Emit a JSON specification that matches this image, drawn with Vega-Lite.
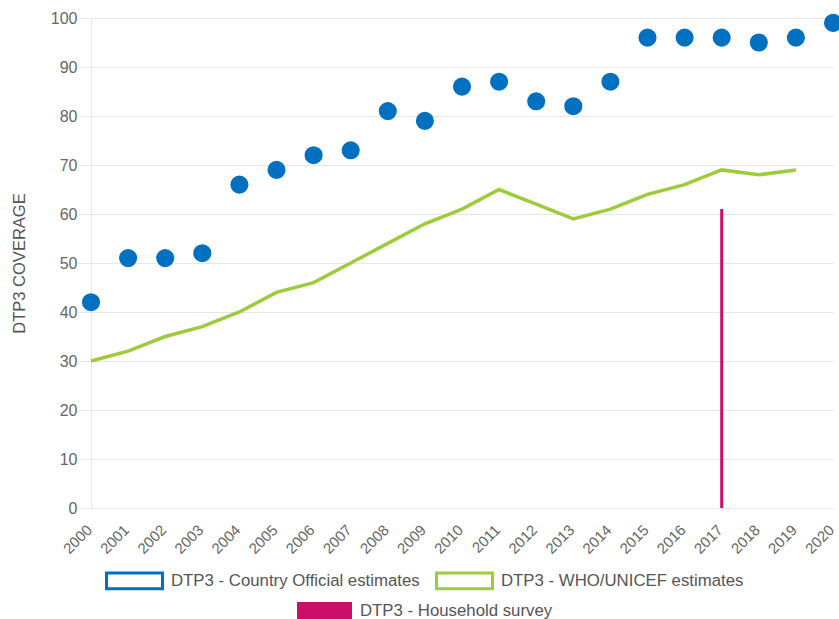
{
  "$schema": "https://vega.github.io/schema/vega-lite/v6.json",
  "width": 742,
  "height": 490,
  "autosize": {"type": "none"},
  "padding": {"left": 91, "top": 18, "right": 6, "bottom": 111},
  "background": "white",
  "datasets": {
    "official": [
      {"year": 2000, "value": 42, "series": "DTP3 - Country Official estimates"},
      {"year": 2001, "value": 51, "series": "DTP3 - Country Official estimates"},
      {"year": 2002, "value": 51, "series": "DTP3 - Country Official estimates"},
      {"year": 2003, "value": 52, "series": "DTP3 - Country Official estimates"},
      {"year": 2004, "value": 66, "series": "DTP3 - Country Official estimates"},
      {"year": 2005, "value": 69, "series": "DTP3 - Country Official estimates"},
      {"year": 2006, "value": 72, "series": "DTP3 - Country Official estimates"},
      {"year": 2007, "value": 73, "series": "DTP3 - Country Official estimates"},
      {"year": 2008, "value": 81, "series": "DTP3 - Country Official estimates"},
      {"year": 2009, "value": 79, "series": "DTP3 - Country Official estimates"},
      {"year": 2010, "value": 86, "series": "DTP3 - Country Official estimates"},
      {"year": 2011, "value": 87, "series": "DTP3 - Country Official estimates"},
      {"year": 2012, "value": 83, "series": "DTP3 - Country Official estimates"},
      {"year": 2013, "value": 82, "series": "DTP3 - Country Official estimates"},
      {"year": 2014, "value": 87, "series": "DTP3 - Country Official estimates"},
      {"year": 2015, "value": 96, "series": "DTP3 - Country Official estimates"},
      {"year": 2016, "value": 96, "series": "DTP3 - Country Official estimates"},
      {"year": 2017, "value": 96, "series": "DTP3 - Country Official estimates"},
      {"year": 2018, "value": 95, "series": "DTP3 - Country Official estimates"},
      {"year": 2019, "value": 96, "series": "DTP3 - Country Official estimates"},
      {"year": 2020, "value": 99, "series": "DTP3 - Country Official estimates"}
    ],
    "who": [
      {"year": 2000, "value": 30, "series": "DTP3 - WHO/UNICEF estimates"},
      {"year": 2001, "value": 32, "series": "DTP3 - WHO/UNICEF estimates"},
      {"year": 2002, "value": 35, "series": "DTP3 - WHO/UNICEF estimates"},
      {"year": 2003, "value": 37, "series": "DTP3 - WHO/UNICEF estimates"},
      {"year": 2004, "value": 40, "series": "DTP3 - WHO/UNICEF estimates"},
      {"year": 2005, "value": 44, "series": "DTP3 - WHO/UNICEF estimates"},
      {"year": 2006, "value": 46, "series": "DTP3 - WHO/UNICEF estimates"},
      {"year": 2007, "value": 50, "series": "DTP3 - WHO/UNICEF estimates"},
      {"year": 2008, "value": 54, "series": "DTP3 - WHO/UNICEF estimates"},
      {"year": 2009, "value": 58, "series": "DTP3 - WHO/UNICEF estimates"},
      {"year": 2010, "value": 61, "series": "DTP3 - WHO/UNICEF estimates"},
      {"year": 2011, "value": 65, "series": "DTP3 - WHO/UNICEF estimates"},
      {"year": 2012, "value": 62, "series": "DTP3 - WHO/UNICEF estimates"},
      {"year": 2013, "value": 59, "series": "DTP3 - WHO/UNICEF estimates"},
      {"year": 2014, "value": 61, "series": "DTP3 - WHO/UNICEF estimates"},
      {"year": 2015, "value": 64, "series": "DTP3 - WHO/UNICEF estimates"},
      {"year": 2016, "value": 66, "series": "DTP3 - WHO/UNICEF estimates"},
      {"year": 2017, "value": 69, "series": "DTP3 - WHO/UNICEF estimates"},
      {"year": 2018, "value": 68, "series": "DTP3 - WHO/UNICEF estimates"},
      {"year": 2019, "value": 69, "series": "DTP3 - WHO/UNICEF estimates"}
    ],
    "survey": [
      {"year": 2017, "value": 61, "series": "DTP3 - Household survey"}
    ]
  },
  "encoding": {
    "x": {
      "field": "year",
      "type": "quantitative",
      "scale": {"domain": [2000, 2020], "nice": false, "zero": false, "padding": 0},
      "axis": {
        "values": [2000, 2001, 2002, 2003, 2004, 2005, 2006, 2007, 2008, 2009, 2010, 2011, 2012, 2013, 2014, 2015, 2016, 2017, 2018, 2019, 2020],
        "format": "d",
        "title": null,
        "grid": false,
        "ticks": false,
        "labelAngle": -45,
        "labelAlign": "right",
        "labelBaseline": "middle",
        "labelPadding": 19,
        "labelOffset": -2,
        "labelFontSize": 15,
        "labelColor": "#666666",
        "domainColor": "#e6e6e6",
        "labelOverlap": false
      }
    },
    "y": {
      "field": "value",
      "type": "quantitative",
      "scale": {"domain": [0, 100], "nice": false},
      "axis": {
        "values": [0, 10, 20, 30, 40, 50, 60, 70, 80, 90, 100],
        "title": "DTP3 COVERAGE",
        "titleFontSize": 16.5,
        "titleFontWeight": "normal",
        "titleColor": "#555555",
        "titlePadding": 23,
        "ticks": true,
        "tickSize": 13,
        "tickColor": "#e6e6e6",
        "labelPadding": 1,
        "labelFontSize": 16,
        "labelColor": "#666666",
        "gridColor": "#e6e6e6",
        "domainColor": "#e6e6e6"
      }
    }
  },
  "layer": [
    {
      "data": {"name": "survey"},
      "mark": {"type": "bar", "size": 3},
      "encoding": {
        "fill": {
          "field": "series",
          "type": "nominal",
          "scale": {"domain": ["DTP3 - Household survey"], "range": ["#cc0e68"]},
          "legend": {
            "orient": "none",
            "legendX": 206,
            "legendY": 565,
            "title": null,
            "symbolType": "M-1,-0.31H1V0.31H-1Z",
            "symbolSize": 3025,
            "symbolStrokeWidth": 0,
            "labelFontSize": 16.8,
            "labelColor": "#555555",
            "labelOffset": 8,
            "labelLimit": 400
          }
        }
      }
    },
    {
      "data": {"name": "who"},
      "mark": {"type": "line", "strokeWidth": 3.5},
      "encoding": {
        "stroke": {
          "field": "series",
          "type": "nominal",
          "scale": {
            "domain": ["DTP3 - Country Official estimates", "DTP3 - WHO/UNICEF estimates"],
            "range": ["#0070c0", "#9ccc3c"]
          },
          "legend": {
            "orient": "none",
            "legendX": 14,
            "legendY": 533,
            "direction": "horizontal",
            "title": null,
            "symbolType": "M-1,-0.28H1V0.28H-1Z",
            "symbolSize": 3136,
            "symbolStrokeWidth": 3,
            "symbolFillColor": "white",
            "labelFontSize": 16.8,
            "labelColor": "#555555",
            "labelOffset": 7,
            "columnPadding": 10,
            "labelLimit": 400,
            "encode": {"symbols": {"update": {"fill": {"value": "white"}, "strokeWidth": {"value": 3}, "opacity": {"value": 1}}}}
          }
        }
      }
    },
    {
      "data": {"name": "official"},
      "mark": {"type": "point", "filled": true, "fill": "#0070c0", "size": 260, "opacity": 1},
      "encoding": {
        "stroke": {"field": "series", "type": "nominal"}
      }
    }
  ],
  "config": {
    "font": "Liberation Sans",
    "view": {"stroke": null}
  }
}
